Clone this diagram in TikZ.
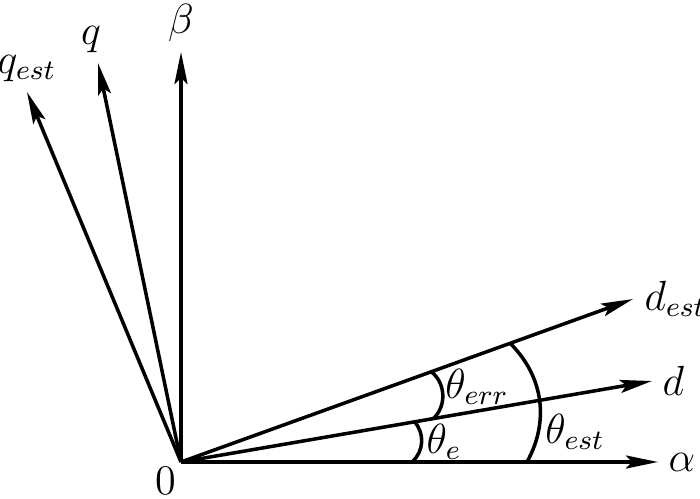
\documentclass[tikz,border=0pt]{standalone}
\usepackage{amsmath}
\usepackage{tikz}
\usetikzlibrary{arrows.meta}

\begin{document}
\begin{tikzpicture}[x=0.1mm,y=0.1mm,line width=1pt,font=\fontsize{11.5}{13.5}\selectfont,
	vec/.style={-{Stealth[length=3.2mm,width=1.3mm,inset=0.6mm]}},
	lbl/.style={inner sep=2.5pt}]
	\useasboundingbox (0,0) rectangle (700,498);

	\coordinate (o) at (181,36);
	\coordinate (a) at (658,36);
	\coordinate (b) at (181,446);
	\coordinate (d) at (652,117);
	\coordinate (dest) at (633,199);
	\coordinate (q) at (98,435);
	\coordinate (qest) at (27,406);

	\draw[vec] (o) -- (a) node[lbl,right] (alpha) {$\alpha$};
	\draw[vec] (o) -- (b) node[lbl,above] (beta) {$\beta$};
	\draw[vec] (o) -- (d) node[lbl,right] (dlab) {$d$};
	\draw[vec] (o) -- (dest) node[right,inner sep=2.8pt] (destlab) {$d_{est}$};
	\draw[vec] (o) -- (q) node[lbl,above,xshift=-0.7mm] (qlab) {$q$};
	\draw[vec] (o) -- (qest) node[lbl,above] (qestlab) {$q_{est}$};
	\node[below left,inner sep=1pt] (zero) at (o) {$0$};

	% angle arcs
	\coordinate (e1) at (412,36);
	\coordinate (e2) at (414.6,76.2);
	\coordinate (r1) at (433.3,79.4);
	\coordinate (r2) at (431.2,126.3);
	\coordinate (s1) at (527,36);
	\coordinate (s2) at (510.2,154.7);
	\draw (e1) to[bend right=45] (e2);
	\draw (r1) to[bend right=50] (r2);
	\draw (s1) to[bend right=37] (s2);

	\node (te) at (444,56) {$\theta_e$};
	\node (terr) at (477,111) {$\theta_{err}$};
	\node (test) at (575,66) {$\theta_{est}$};
\end{tikzpicture}
\end{document}
